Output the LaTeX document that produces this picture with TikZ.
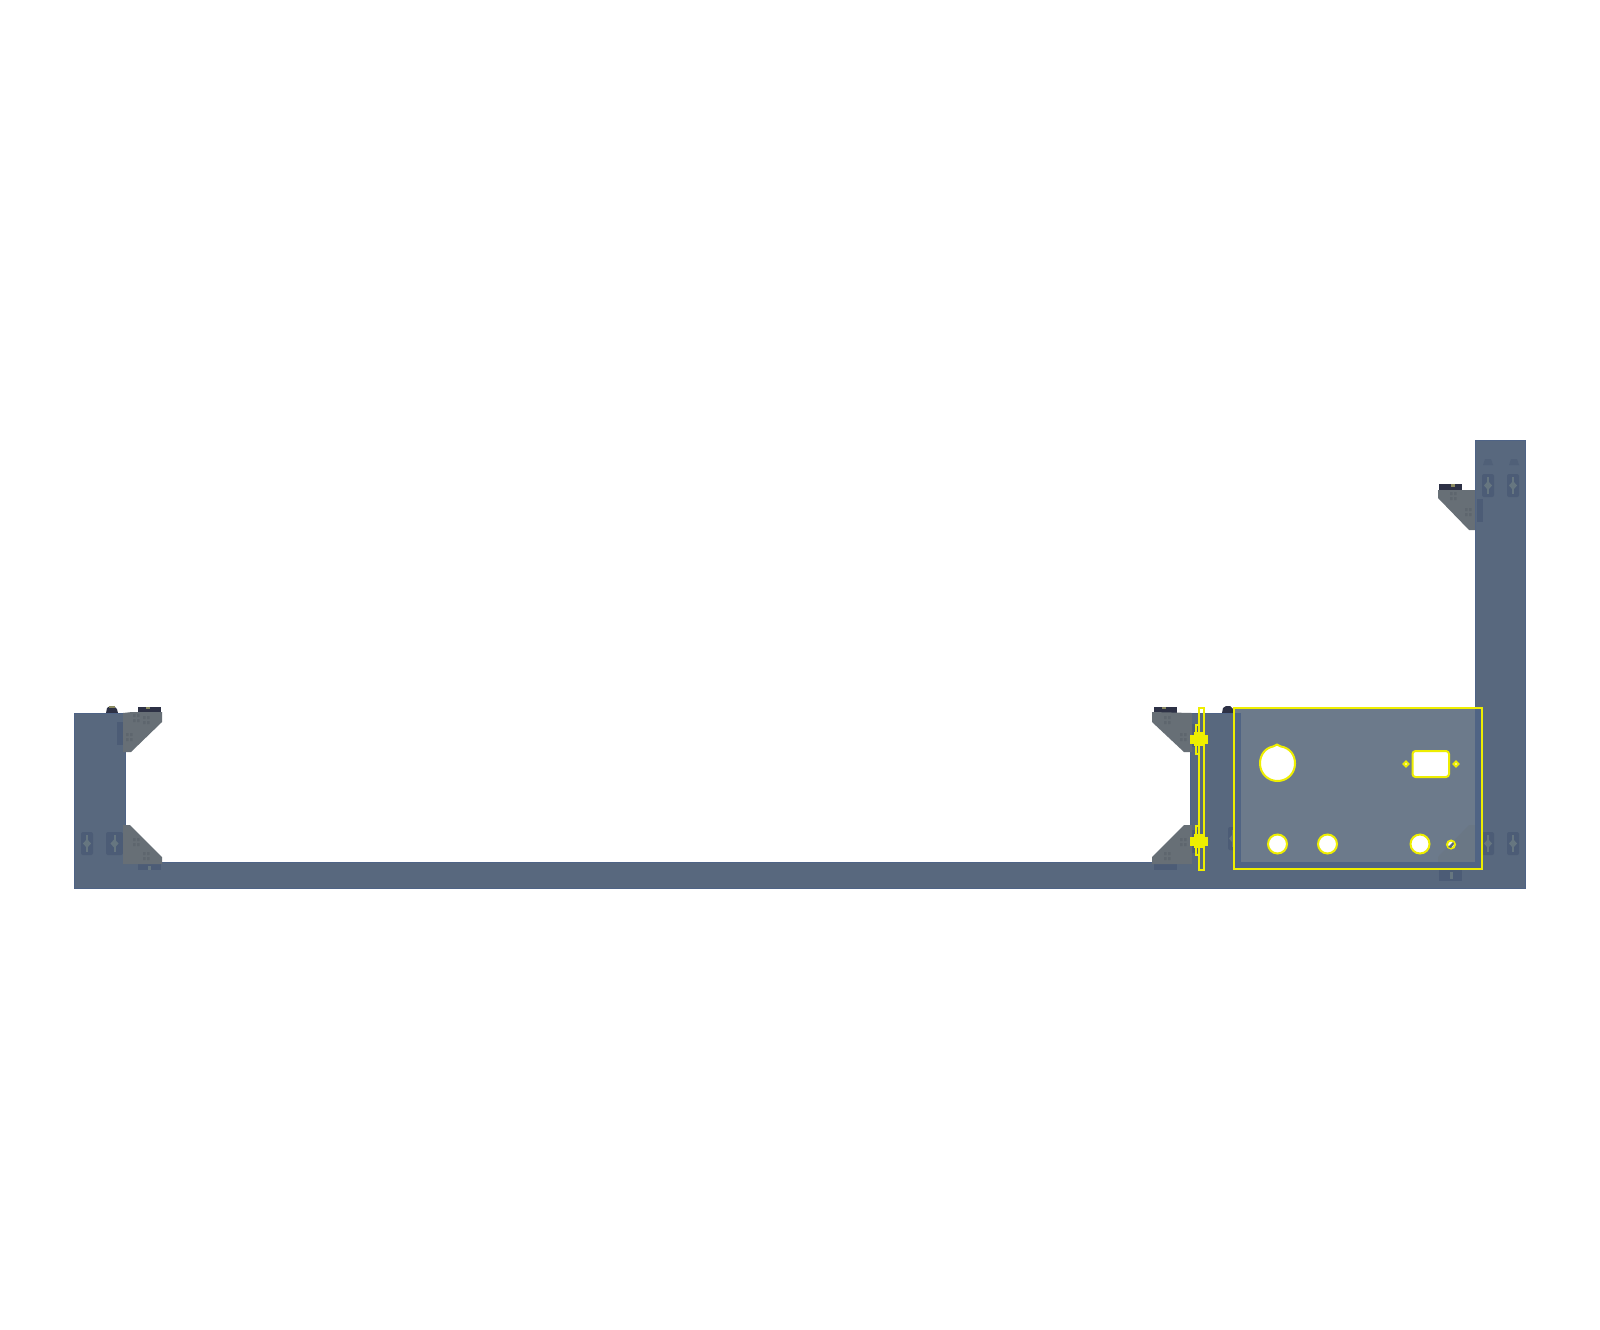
\documentclass[tikz,border=0pt]{standalone}
\definecolor{steel}{HTML}{58687E}
\definecolor{steelb}{HTML}{4E6386}
\definecolor{plate}{HTML}{6C7A8B}
\definecolor{gus}{HTML}{676F76}
\definecolor{gusd}{HTML}{5E666E}
\definecolor{slotc}{HTML}{4C5C76}
\definecolor{slotl}{HTML}{667680}
\definecolor{capc}{HTML}{2D3145}
\definecolor{olive}{HTML}{8A8A60}
\definecolor{yel}{HTML}{EEEE00}
\tikzset{x=0.5pt,y=-0.5pt,
 beam/.style={fill=steel,draw=steelb,line width=0.4pt},
 gusset/.style={fill=gus,draw=none},
 capblock/.style={fill=capc,draw=none},
 cut/.style={fill=white,draw=yel,line width=1pt},
 yline/.style={draw=yel,line width=1pt,fill=none}}
\newcommand{\boltslot}[3]{% x y w
  \fill[slotc,rounded corners=1pt] (#1,#2) rectangle ++(#3,23);
  \fill[slotl] (#1+#3/2-1,#2+3) rectangle ++(2,17);
  \fill[slotl] (#1+#3/2,#2+7) -- ++(4,4.5) -- ++(-4,4.5) -- ++(-4,-4.5) -- cycle;}
\newcommand{\gussetmarks}[2]{% x y (small ticks)
  \fill[gusd] (#1,#2) rectangle ++(2.5,3) (#1+4,#2) rectangle ++(2.5,3);
  \fill[gusd] (#1,#2+5) rectangle ++(2.5,3) (#1+4,#2+5) rectangle ++(2.5,3);}
\begin{document}
\begin{tikzpicture}
\useasboundingbox (0,0) rectangle (1600,1329);
\fill[white] (0,0) rectangle (1600,1329);
% caps behind
\foreach \x in {138,1154}{\fill[capblock] (\x,707) rectangle ++(23,6); \fill[olive] (\x+8,706.5) rectangle ++(4,2);}
\fill[capc] (106,713) -- (107,708) -- (110,706) -- (114,706) -- (117,709) -- (118,713) -- cycle;
\fill[olive] (108.5,706) rectangle ++(6,1.5);
\fill[capc] (1222,713) -- (1223,708) -- (1226,706) -- (1230,706) -- (1233,709) -- (1234,713) -- cycle;
\fill[capc] (1439,483.5) rectangle (1462,491);
\fill[olive] (1451,483.5) rectangle ++(4,3);
% frame
\path[beam] (74,713) -- (125,713) -- (125,862) -- (1190,862) -- (1190,713) -- (1241,713) -- (1241,862) -- (1475,862) -- (1475,440) -- (1525.5,440) -- (1525.5,888) -- (74,888) -- cycle;
\fill[steel] (1191,714) rectangle (1240,887);
% slots on beams
\boltslot{81}{832}{12}
\boltslot{106}{832}{17}
\boltslot{1482}{474}{12}
\boltslot{1507}{474}{12}
\boltslot{1482}{832}{12}
\boltslot{1507}{832}{12}
\boltslot{1228}{827}{10}
\foreach \x/\y in {117/722,1477/499,1192/724,1192/830}{\fill[slotc] (\x,\y) rectangle ++(6,23);}
\foreach \x in {1483,1509}{\fill[slotc!70!steel] (\x,465) -- (\x+2,459) -- (\x+8,459) -- (\x+10,465) -- cycle;}
\fill[slotc] (138,864) rectangle (161,870);
\fill[slotc] (1154,864) rectangle (1177,870);
\fill[slotc] (1439,870) rectangle (1462,881);
\fill[slotl] (1450,872) rectangle ++(3,7);
\fill[slotl] (148,866) rectangle ++(3,4);
% gussets
\path[gusset] (123,713) -- (132,712) -- (162,712) -- (162,722) -- (131,752) -- (123,752) -- cycle;
\path[gusset] (123,825) -- (130,825) -- (162,857) -- (162,864) -- (123,864) -- cycle;
\path[gusset] (1192,713) -- (1152,712) -- (1152,722) -- (1184,752) -- (1192,752) -- cycle;
\path[gusset] (1192,825) -- (1184,825) -- (1152,857) -- (1152,864) -- (1192,864) -- cycle;
\path[gusset] (1475,490) -- (1438,490) -- (1438,498) -- (1469,530) -- (1475,530) -- cycle;
\gussetmarks{133}{714}
\gussetmarks{143}{716}
\gussetmarks{126}{733}
\gussetmarks{133}{838}
\gussetmarks{143}{852}
\gussetmarks{1164}{716}
\gussetmarks{1180}{733}
\gussetmarks{1164}{852}
\gussetmarks{1180}{838}
\gussetmarks{1450}{492}
\gussetmarks{1465}{508}
% panel
\fill[plate] (1234,708) rectangle (1475,862);
\fill[steelb!80!steel] (1234,713) rectangle (1241,862);
\fill[steelb!80!steel] (1234,862) rectangle (1482,869);
\fill[steelb!80!steel] (1475,708) rectangle (1482,869);
\path[fill=gus,opacity=.25] (1475,825) -- (1469,825) -- (1438,857) -- (1438,862) -- (1475,862) -- cycle;
\draw[yline] (1234,708) rectangle (1482,869);
% main hole, a circle with a small peak on top
\draw[cut] (1277,744.5) -- (1281,746.5)
  .. controls (1290,748) and (1295,755) .. (1295,763.5)
  .. controls (1295,773.5) and (1287,781) .. (1277.5,781)
  .. controls (1268,781) and (1260,773.5) .. (1260,763.5)
  .. controls (1260,755) and (1265,748) .. (1273,746.5) -- cycle;
\draw[cut,rounded corners=1.5pt] (1412.5,751) rectangle (1449,777);
\draw[cut] (1406,761.5) -- (1408.5,764) -- (1406,766.5) -- (1403.5,764) -- cycle;
\draw[cut] (1456,761.5) -- (1458.5,764) -- (1456,766.5) -- (1453.5,764) -- cycle;
\foreach \x in {1277.5,1327.5,1420}{\draw[cut] (\x,844) circle[radius=9.5];}
\draw[cut] (1451,844.5) circle[radius=4];
\fill[steel] (1448,847) -- (1453,842) -- (1454,844) -- (1451,848) -- cycle;
% yellow bracket
\draw[yline] (1198.5,708) rectangle (1203.5,869.5);
\draw[yline] (1195.5,725) rectangle (1198.5,754);
\draw[yline] (1195.5,826) rectangle (1198.5,855);
\foreach \y in {739,841}{
  \fill[yel] (1190,\y-4.5) rectangle (1208,\y+4.5);
  \fill[yel] (1194,\y-7) rectangle (1204,\y+7);}
\end{tikzpicture}
\end{document}
